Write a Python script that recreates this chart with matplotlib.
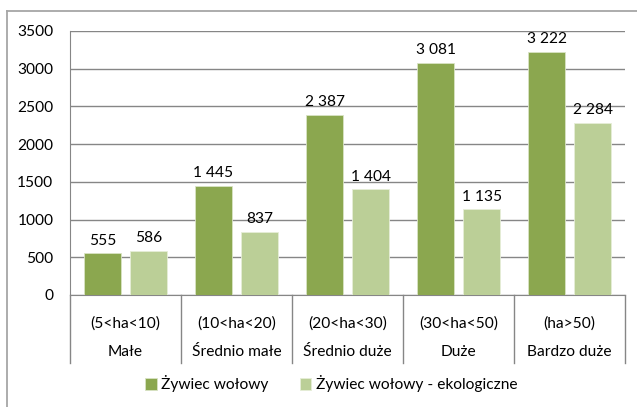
"""Bar chart: Żywiec wołowy by farm size class."""

import matplotlib
matplotlib.use("Agg")
import matplotlib.pyplot as plt
from matplotlib.lines import Line2D

# data
size_ranges = ['(5<ha<10)', '(10<ha<20)', '(20<ha<30)', '(30<ha<50)', '(ha>50)']
size_names = ['Małe', 'Średnio małe', 'Średnio duże', 'Duże', 'Bardzo duże']
beef = [555, 1445, 2387, 3081, 3222]
beef_eco = [586, 837, 1404, 1135, 2284]
series_names = ['Żywiec wołowy', 'Żywiec wołowy - ekologiczne']

dark_green = '#8BA74F'
light_green = '#BBCF97'
grid_grey = '#868686'

plt.rcParams['font.family'] = ['Lato', 'DejaVu Sans']
plt.rcParams['font.size'] = 11.2

fig = plt.figure(figsize=(6.37, 4.07), dpi=100)
ax = fig.add_axes([70 / 637, 1 - 295 / 407, 555 / 637, 264 / 407])

# bar positions inside each category
x = [i + 0.5 for i in range(len(beef))]
width = 0.335
x_dark = [v - 0.207 for v in x]
x_light = [v + 0.209 for v in x]

bars1 = ax.bar(x_dark, beef, width, color=dark_green, edgecolor='#d9e3c5',
               linewidth=0.6, label=series_names[0], zorder=3)
bars2 = ax.bar(x_light, beef_eco, width, color=light_green, edgecolor='#e6eed8',
               linewidth=0.6, label=series_names[1], zorder=3)


def fmt(v):
    return f'{v:,}'.replace(',', ' ')


for bars, vals in [(bars1, beef), (bars2, beef_eco)]:
    for b, v in zip(bars, vals):
        ax.annotate(fmt(v), (b.get_x() + b.get_width() / 2, v),
                    xytext=(0, 4), textcoords='offset points',
                    ha='center', va='bottom', color='black')

ax.set_xlim(0, len(beef))
ax.set_ylim(0, 3500)
ax.set_yticks(range(0, 3501, 500))
ax.yaxis.grid(True, color=grid_grey, linewidth=1.0, zorder=0)
ax.set_axisbelow(True)
ax.tick_params(axis='y', length=0, pad=12)
ax.set_xticks([])

for side in ['top', 'right']:
    ax.spines[side].set_visible(False)
ax.spines['left'].set_color(grid_grey)
ax.spines['bottom'].set_color(grid_grey)

# two-level category axis
trans = ax.get_xaxis_transform()
for i in range(len(beef) + 1):
    ax.plot([i, i], [0, -0.258], transform=trans, color=grid_grey,
            linewidth=1.0, clip_on=False)
for i in range(len(beef)):
    ax.text(i + 0.5, -0.11, size_ranges[i], transform=trans,
            ha='center', va='center')
    ax.text(i + 0.5, -0.216, size_names[i], transform=trans,
            ha='center', va='center')

fig.legend(loc='center', bbox_to_anchor=(0.52, 1 - 384 / 407), ncol=2,
           frameon=False, handlelength=0.75, handleheight=0.75,
           handletextpad=0.3, columnspacing=2.0)

# outer chart border (only left and top visible in the crop)
fig.add_artist(Line2D([7 / 637, 7 / 637], [0, 1 - 11 / 407],
                      color='#a6a6a6', linewidth=1.3))
fig.add_artist(Line2D([7 / 637, 1], [1 - 11 / 407, 1 - 11 / 407],
                      color='#a6a6a6', linewidth=1.3))

fig.savefig('out.png', dpi=100)
